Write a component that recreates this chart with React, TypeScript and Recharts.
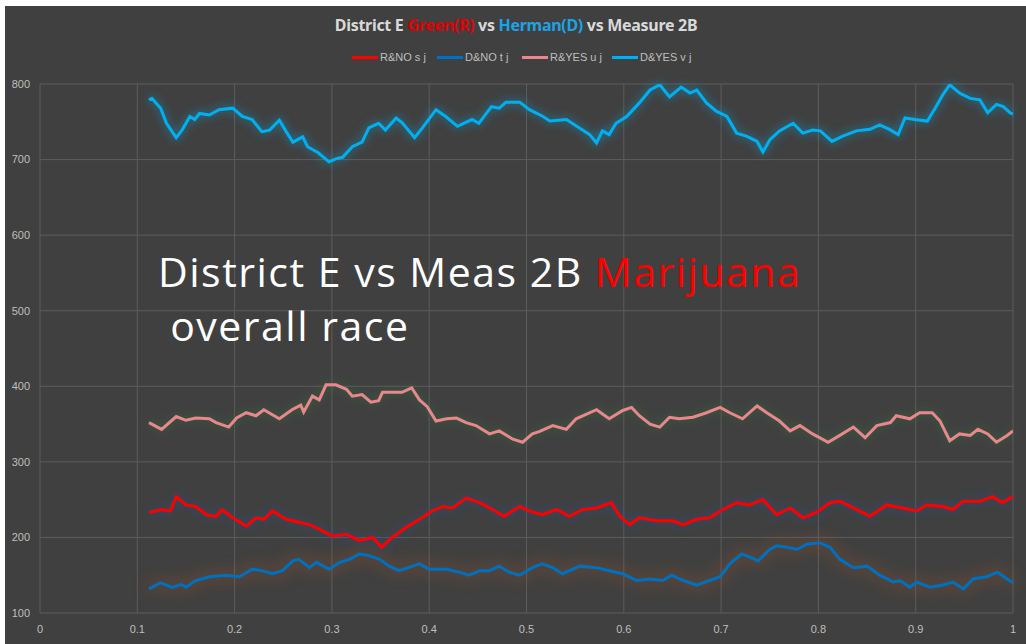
import React from "react";
import { LineChart, Line, XAxis, YAxis, CartesianGrid } from "recharts";

// ---- data ----
const xTicks = [0, 0.1, 0.2, 0.3, 0.4, 0.5, 0.6, 0.7, 0.8, 0.9, 1];
const yTicks = [100, 200, 300, 400, 500, 600, 700, 800];

const dYesX = [0.112, 0.115, 0.124, 0.13, 0.14, 0.146, 0.154, 0.159, 0.164, 0.174, 0.184, 0.198, 0.208, 0.218, 0.228, 0.236, 0.246, 0.253, 0.26, 0.27, 0.275, 0.286, 0.297, 0.304, 0.311, 0.321, 0.331, 0.338, 0.348, 0.355, 0.366, 0.372, 0.385, 0.393, 0.407, 0.417, 0.429, 0.444, 0.451, 0.464, 0.472, 0.479, 0.493, 0.503, 0.517, 0.524, 0.541, 0.554, 0.565, 0.572, 0.578, 0.585, 0.592, 0.603, 0.616, 0.627, 0.637, 0.647, 0.659, 0.668, 0.675, 0.685, 0.695, 0.706, 0.716, 0.726, 0.737, 0.743, 0.75, 0.76, 0.774, 0.784, 0.794, 0.802, 0.814, 0.825, 0.839, 0.853, 0.863, 0.873, 0.882, 0.889, 0.899, 0.912, 0.92, 0.928, 0.935, 0.945, 0.956, 0.966, 0.974, 0.983, 0.99, 0.997, 1.0];
const dYesY = [779, 781, 768, 748, 729, 739, 757, 753, 761, 759, 766, 768, 757, 753, 737, 739, 752, 737, 723, 730, 717, 709, 697, 701, 703, 717, 723, 742, 748, 739, 755, 749, 729, 742, 766, 757, 744, 753, 748, 770, 768, 776, 776, 766, 757, 751, 753, 742, 733, 722, 738, 733, 748, 757, 775, 792, 799, 783, 796, 788, 792, 775, 764, 757, 735, 731, 724, 710, 726, 738, 748, 735, 739, 738, 724, 731, 738, 740, 746, 740, 733, 755, 753, 751, 768, 786, 799, 788, 781, 779, 762, 773, 770, 762, 760];

const rYesX = [0.112, 0.125, 0.14, 0.15, 0.16, 0.174, 0.181, 0.194, 0.202, 0.212, 0.222, 0.23, 0.246, 0.259, 0.268, 0.271, 0.28, 0.287, 0.294, 0.304, 0.315, 0.321, 0.331, 0.34, 0.348, 0.352, 0.362, 0.372, 0.382, 0.39, 0.398, 0.407, 0.418, 0.428, 0.438, 0.448, 0.462, 0.472, 0.486, 0.496, 0.506, 0.513, 0.527, 0.541, 0.551, 0.572, 0.585, 0.599, 0.608, 0.616, 0.627, 0.637, 0.647, 0.657, 0.671, 0.685, 0.699, 0.709, 0.722, 0.737, 0.747, 0.76, 0.771, 0.781, 0.794, 0.81, 0.822, 0.836, 0.848, 0.86, 0.874, 0.88, 0.894, 0.904, 0.917, 0.925, 0.935, 0.945, 0.956, 0.964, 0.974, 0.983, 0.994, 1.0];
const rYesY = [352, 343, 360, 355, 358, 357, 352, 346, 358, 365, 361, 369, 357, 369, 375, 366, 387, 382, 402, 402, 396, 387, 389, 379, 381, 392, 392, 392, 398, 382, 373, 354, 357, 358, 352, 348, 337, 341, 330, 326, 337, 340, 348, 343, 357, 369, 357, 368, 372, 361, 350, 346, 359, 357, 359, 365, 372, 365, 357, 374, 365, 354, 341, 348, 337, 326, 335, 346, 332, 348, 352, 361, 357, 365, 365, 354, 328, 337, 335, 343, 337, 326, 335, 341];

const rNoX = [0.112, 0.125, 0.134, 0.14, 0.15, 0.16, 0.171, 0.181, 0.187, 0.198, 0.212, 0.222, 0.23, 0.239, 0.253, 0.266, 0.277, 0.287, 0.3, 0.315, 0.328, 0.342, 0.351, 0.356, 0.362, 0.376, 0.39, 0.403, 0.414, 0.424, 0.438, 0.452, 0.465, 0.477, 0.493, 0.503, 0.516, 0.531, 0.544, 0.558, 0.572, 0.587, 0.596, 0.606, 0.616, 0.634, 0.65, 0.661, 0.675, 0.688, 0.702, 0.716, 0.729, 0.743, 0.757, 0.771, 0.784, 0.798, 0.812, 0.822, 0.836, 0.853, 0.87, 0.887, 0.901, 0.911, 0.928, 0.938, 0.949, 0.966, 0.979, 0.989, 1.0];
const rNoY = [233, 237, 235, 254, 243, 241, 230, 228, 237, 226, 215, 226, 224, 235, 224, 220, 217, 211, 202, 204, 196, 200, 187, 193, 200, 213, 224, 235, 241, 239, 252, 246, 237, 228, 241, 235, 230, 237, 228, 237, 239, 246, 228, 217, 226, 222, 222, 217, 224, 226, 237, 246, 243, 250, 230, 239, 226, 233, 246, 248, 239, 228, 243, 239, 235, 243, 241, 237, 248, 248, 254, 246, 254];

const dNoX = [0.112, 0.124, 0.136, 0.145, 0.15, 0.16, 0.174, 0.191, 0.205, 0.218, 0.228, 0.239, 0.249, 0.26, 0.266, 0.277, 0.284, 0.297, 0.308, 0.318, 0.328, 0.338, 0.349, 0.359, 0.369, 0.383, 0.39, 0.4, 0.418, 0.431, 0.441, 0.452, 0.462, 0.472, 0.482, 0.493, 0.506, 0.516, 0.527, 0.537, 0.555, 0.572, 0.585, 0.599, 0.613, 0.627, 0.64, 0.649, 0.661, 0.675, 0.688, 0.699, 0.709, 0.721, 0.73, 0.738, 0.75, 0.757, 0.768, 0.778, 0.788, 0.801, 0.812, 0.822, 0.836, 0.85, 0.863, 0.877, 0.884, 0.894, 0.901, 0.915, 0.928, 0.938, 0.949, 0.959, 0.973, 0.984, 0.994, 1.0];
const dNoY = [132, 140, 134, 138, 134, 143, 148, 150, 148, 158, 156, 152, 156, 169, 171, 160, 167, 158, 167, 171, 178, 176, 171, 162, 156, 162, 165, 158, 158, 154, 150, 156, 156, 162, 154, 150, 160, 165, 160, 152, 162, 160, 156, 152, 143, 145, 143, 150, 143, 137, 143, 148, 165, 178, 174, 169, 184, 189, 187, 184, 191, 193, 187, 171, 160, 162, 150, 141, 143, 134, 141, 134, 137, 141, 132, 145, 148, 154, 145, 140];

const seriesNames = ["R&NO s j", "D&NO t j", "R&YES u j", "D&YES v j"];
const seriesColors = ["#ff0000", "#0070c0", "#e8878c", "#00b0f0"];

const toPoints = (xs: number[], ys: number[]) => xs.map((x, i) => ({ x, y: ys[i] }));
const rNoData = toPoints(rNoX, rNoY);
const dNoData = toPoints(dNoX, dNoY);
const rYesData = toPoints(rYesX, rYesY);
const dYesData = toPoints(dYesX, dYesY);

const css = `
body { margin: 0; }
.glow-rno { filter: drop-shadow(0 0 5px rgba(40,80,140,0.9)); }
.glow-dno { filter: drop-shadow(0 0 8px rgba(190,90,30,0.85)); }
.glow-ryes { filter: drop-shadow(0 0 5px rgba(50,110,60,0.9)); }
.glow-dyes { filter: drop-shadow(0 0 5px rgba(0,176,240,0.7)); }
`;

const tickFont = { fill: "#bfbfbf", fontSize: 11, fontFamily: "'Liberation Sans Narrow', 'Liberation Sans', sans-serif" };

export default function App() {
  return (
    <div style={{ position: "relative", width: 1026, height: 644, background: "#ffffff", overflow: "hidden" }}>
      <style>{css}</style>
      <div style={{ position: "absolute", left: 5, top: 6, width: 1021, height: 638, background: "#404040" }}>
        <LineChart width={1021} height={638} margin={{ top: 78, right: 13, bottom: 0, left: 0 }}>
          <CartesianGrid stroke="#5c5c5c" strokeWidth={1} />
          <XAxis
            type="number"
            dataKey="x"
            domain={[0, 1]}
            ticks={xTicks}
            height={31}
            axisLine={false}
            tickLine={false}
            tickMargin={6}
            tick={tickFont}
            allowDataOverflow
          />
          <YAxis
            type="number"
            domain={[100, 800]}
            ticks={yTicks}
            width={35}
            axisLine={false}
            tickLine={false}
            tickMargin={4}
            tick={tickFont}
            allowDataOverflow
          />
          <Line data={dNoData} dataKey="y" name={seriesNames[1]} type="linear" stroke={seriesColors[1]} strokeWidth={3} dot={false} isAnimationActive={false} className="glow-dno" />
          <Line data={rNoData} dataKey="y" name={seriesNames[0]} type="linear" stroke={seriesColors[0]} strokeWidth={3} dot={false} isAnimationActive={false} className="glow-rno" />
          <Line data={rYesData} dataKey="y" name={seriesNames[2]} type="linear" stroke={seriesColors[2]} strokeWidth={3} dot={false} isAnimationActive={false} className="glow-ryes" />
          <Line data={dYesData} dataKey="y" name={seriesNames[3]} type="linear" stroke={seriesColors[3]} strokeWidth={3} dot={false} isAnimationActive={false} className="glow-dyes" />
        </LineChart>
      </div>

      {/* Title */}
      <div style={{ position: "absolute", left: 0, top: 14, width: 1032, textAlign: "center", fontFamily: "'Noto Sans', sans-serif", fontWeight: 700, fontSize: 16, color: "#d9d9d9", letterSpacing: -0.3 }}>
        District E <span style={{ color: "#e00000" }}>Green(R)</span> vs <span style={{ color: "#1ca3e6" }}>Herman(D)</span> vs Measure 2B
      </div>

      {/* Legend */}
      {[352, 437, 522, 612].map((lx, i) => (
        <div key={i} style={{ position: "absolute", left: lx, top: 50, height: 14, display: "flex", alignItems: "center", fontFamily: "'Liberation Sans Narrow', 'Liberation Sans', sans-serif", fontSize: 11, color: "#bfbfbf", whiteSpace: "nowrap" }}>
          <span style={{ display: "inline-block", width: 26, height: 3, background: seriesColors[i], marginRight: 2 }} />
          {seriesNames[i]}
        </div>
      ))}

      {/* Overlay text */}
      <div style={{ position: "absolute", left: 158, top: 244, fontFamily: "'Open Sans', sans-serif", fontSize: 41, letterSpacing: 1.5, color: "#ffffff", whiteSpace: "pre", lineHeight: "54px" }}>
        {"District E vs Meas 2B "}<span style={{ color: "#ff0000" }}>Marijuana</span>
        {"\n overall race"}
      </div>
    </div>
  );
}
